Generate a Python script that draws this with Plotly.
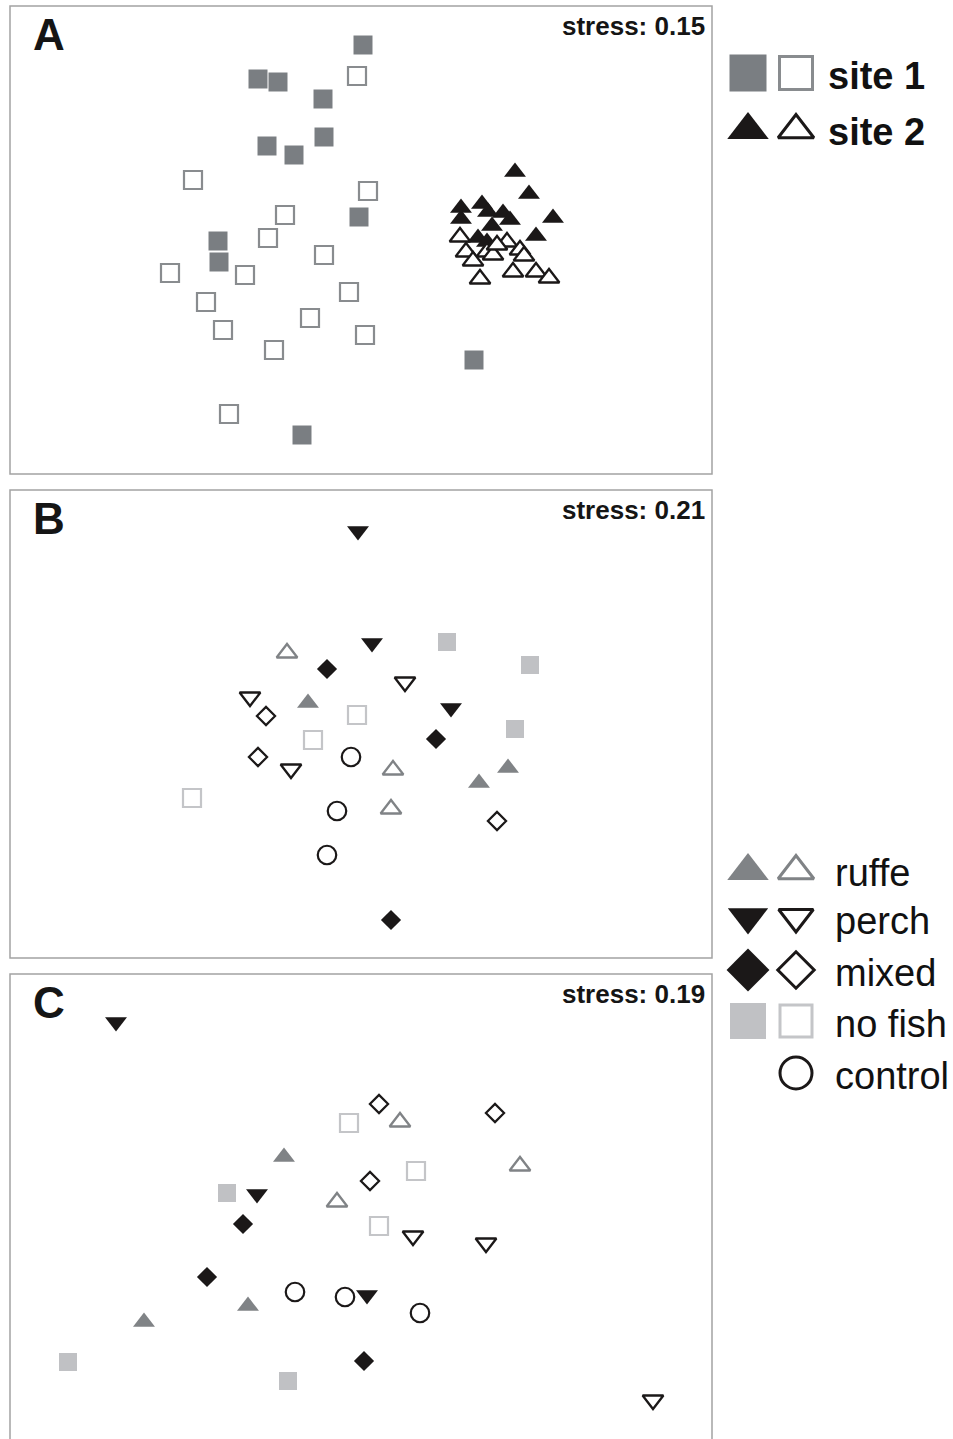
import plotly.graph_objects as go

W, H = 953, 1439

# ---------------- Panel A data (ordination scores) ----------------
a_site1_filled_x = [363, 258, 278, 323, 324, 267, 294, 359, 218, 219, 474, 302]
a_site1_filled_y = [45, 79, 82, 99, 137, 146, 155, 217, 241, 262, 360, 435]
a_site1_open_x = [357, 193, 368, 285, 268, 324, 170, 245, 349, 206, 223, 310, 365, 274, 229]
a_site1_open_y = [76, 180, 191, 215, 238, 255, 273, 275, 292, 302, 330, 318, 335, 350, 414]
a_site2_filled_x = [515, 529, 553, 461, 461, 482, 488, 503, 510, 492, 536, 478, 487, 490]
a_site2_filled_y = [172, 194, 218, 208, 219, 204, 212, 213, 220, 226, 236, 238, 242, 250]
a_site2_open_x = [460, 507, 466, 487, 493, 520, 524, 473, 513, 536, 549, 480, 497]
a_site2_open_y = [237, 242, 252, 252, 255, 250, 256, 261, 272, 272, 278, 279, 245]

# ---------------- Panel B data ----------------
b_ruffe_filled_x = [308, 508, 479]; b_ruffe_filled_y = [703, 768, 783]
b_ruffe_open_x = [287, 393, 391]; b_ruffe_open_y = [653, 770, 809]
b_perch_filled_x = [358, 372, 451]; b_perch_filled_y = [531, 643, 708]
b_perch_open_x = [405, 250, 291]; b_perch_open_y = [682, 697, 769]
b_mixed_filled_x = [327, 436, 391]; b_mixed_filled_y = [669, 739, 920]
b_mixed_open_x = [266, 258, 497]; b_mixed_open_y = [716, 757, 821]
b_nofish_filled_x = [447, 530, 515]; b_nofish_filled_y = [642, 665, 729]
b_nofish_open_x = [357, 313, 192]; b_nofish_open_y = [715, 740, 798]
b_control_x = [351, 337, 327]; b_control_y = [757, 811, 855]

# ---------------- Panel C data ----------------
c_ruffe_filled_x = [284, 248, 144]; c_ruffe_filled_y = [1157, 1306, 1322]
c_ruffe_open_x = [400, 520, 337]; c_ruffe_open_y = [1122, 1166, 1202]
c_perch_filled_x = [116, 257, 367]; c_perch_filled_y = [1022, 1194, 1295]
c_perch_open_x = [413, 486, 653]; c_perch_open_y = [1236, 1243, 1400]
c_mixed_filled_x = [243, 207, 364]; c_mixed_filled_y = [1224, 1277, 1361]
c_mixed_open_x = [379, 495, 370]; c_mixed_open_y = [1104, 1113, 1181]
c_nofish_filled_x = [227, 68, 288]; c_nofish_filled_y = [1193, 1362, 1381]
c_nofish_open_x = [349, 416, 379]; c_nofish_open_y = [1123, 1171, 1226]
c_control_x = [295, 345, 420]; c_control_y = [1292, 1297, 1313]

panel_letters = ["A", "B", "C"]
stress_labels = ["stress: 0.15", "stress: 0.21", "stress: 0.19"]
legend_a_labels = ["site 1", "site 2"]
legend_bc_labels = ["ruffe", "perch", "mixed", "no fish", "control"]

# ---------------- styles ----------------
GRAY_A = "#7a7e82"
GRAY_A_LINE = "#898c8f"
BLACK = "#1b1818"
RUFFE = "#808386"
LIGHT = "#c0c1c4"
LIGHT_LINE = "#c4c5c8"
FRAME = "#a3a3a3"
FONT = "Arial, Liberation Sans, sans-serif"

# panel boxes in page pixels: (left, top, right, bottom)
panels = [(10, 6, 712, 474), (10, 490, 712, 958), (10, 974, 712, 1442)]

fig = go.Figure()


def add(x, y, axis, symbol, size, fill, line_color, line_width):
    fig.add_trace(go.Scatter(
        x=x, y=y, mode="markers", xaxis="x" + axis, yaxis="y" + axis,
        marker=dict(symbol=symbol, size=size, color=fill,
                    line=dict(color=line_color, width=line_width)),
        showlegend=False, hoverinfo="skip", cliponaxis=False))


# Panel A (axis "")
add(a_site1_filled_x, a_site1_filled_y, "", "square", 19, GRAY_A, GRAY_A, 0)
add(a_site1_open_x, a_site1_open_y, "", "square", 18, "white", GRAY_A_LINE, 2.2)
add(a_site2_filled_x, a_site2_filled_y, "", "triangle-up", 19, BLACK, BLACK, 0)
add(a_site2_open_x, a_site2_open_y, "", "triangle-up", 18, "white", BLACK, 2.3)


def group_panel(axis, d):
    add(d["nofish_filled"][0], d["nofish_filled"][1], axis, "square", 18, LIGHT, LIGHT, 0)
    add(d["nofish_open"][0], d["nofish_open"][1], axis, "square", 18, "white", LIGHT_LINE, 2.2)
    add(d["ruffe_filled"][0], d["ruffe_filled"][1], axis, "triangle-up", 19, RUFFE, RUFFE, 0)
    add(d["ruffe_open"][0], d["ruffe_open"][1], axis, "triangle-up", 18, "white", RUFFE, 2.3)
    add(d["perch_filled"][0], d["perch_filled"][1], axis, "triangle-down", 19, BLACK, BLACK, 0)
    add(d["perch_open"][0], d["perch_open"][1], axis, "triangle-down", 18, "white", BLACK, 2.3)
    add(d["mixed_filled"][0], d["mixed_filled"][1], axis, "diamond", 15.5, BLACK, BLACK, 0)
    add(d["mixed_open"][0], d["mixed_open"][1], axis, "diamond", 14, "white", BLACK, 2.2)
    add(d["control"][0], d["control"][1], axis, "circle", 18.5, "white", BLACK, 2.2)


group_panel("2", dict(
    ruffe_filled=(b_ruffe_filled_x, b_ruffe_filled_y), ruffe_open=(b_ruffe_open_x, b_ruffe_open_y),
    perch_filled=(b_perch_filled_x, b_perch_filled_y), perch_open=(b_perch_open_x, b_perch_open_y),
    mixed_filled=(b_mixed_filled_x, b_mixed_filled_y), mixed_open=(b_mixed_open_x, b_mixed_open_y),
    nofish_filled=(b_nofish_filled_x, b_nofish_filled_y), nofish_open=(b_nofish_open_x, b_nofish_open_y),
    control=(b_control_x, b_control_y)))
group_panel("3", dict(
    ruffe_filled=(c_ruffe_filled_x, c_ruffe_filled_y), ruffe_open=(c_ruffe_open_x, c_ruffe_open_y),
    perch_filled=(c_perch_filled_x, c_perch_filled_y), perch_open=(c_perch_open_x, c_perch_open_y),
    mixed_filled=(c_mixed_filled_x, c_mixed_filled_y), mixed_open=(c_mixed_open_x, c_mixed_open_y),
    nofish_filled=(c_nofish_filled_x, c_nofish_filled_y), nofish_open=(c_nofish_open_x, c_nofish_open_y),
    control=(c_control_x, c_control_y)))

# ---------------- legends (overlay axis "4" in page pixels) ----------------
KX1, KX2, TX = 748, 796, 826
leg_a_rows = [73, 129]
add([KX1], [leg_a_rows[0]], "4", "square", 37, GRAY_A, GRAY_A, 0)
add([KX2], [leg_a_rows[0]], "4", "square", 33, "white", GRAY_A_LINE, 3)
add([KX1], [leg_a_rows[1] + 1], "4", "triangle-up", 36, BLACK, BLACK, 0)
add([KX2], [leg_a_rows[1] + 1], "4", "triangle-up", 31, "white", BLACK, 3)

leg_bc_rows = [870, 918, 970, 1021, 1073]
add([KX1], [leg_bc_rows[0] + 1], "4", "triangle-up", 36, RUFFE, RUFFE, 0)
add([KX2], [leg_bc_rows[0] + 1], "4", "triangle-up", 31, "white", RUFFE, 3)
add([KX1], [leg_bc_rows[1] - 1], "4", "triangle-down", 35, BLACK, BLACK, 0)
add([KX2], [leg_bc_rows[1] - 1], "4", "triangle-down", 30, "white", BLACK, 3)
add([KX1], [leg_bc_rows[2]], "4", "diamond", 33, BLACK, BLACK, 0)
add([KX2], [leg_bc_rows[2]], "4", "diamond", 28, "white", BLACK, 3)
add([KX1], [leg_bc_rows[3]], "4", "square", 36, LIGHT, LIGHT, 0)
add([KX2], [leg_bc_rows[3]], "4", "square", 32, "white", LIGHT_LINE, 3)
add([KX2], [leg_bc_rows[4]], "4", "circle", 32, "white", BLACK, 3)

annotations = []
for lab, yy in zip(legend_a_labels, leg_a_rows):
    annotations.append(dict(x=TX, y=yy + 3, xref="x4", yref="y4", text="<b>" + lab + "</b>",
                            showarrow=False, xanchor="left", yanchor="middle",
                            font=dict(family=FONT, size=38, color="#111111")))
for lab, yy in zip(legend_bc_labels, leg_bc_rows):
    annotations.append(dict(x=833, y=yy + 3, xref="x4", yref="y4", text=lab,
                            showarrow=False, xanchor="left", yanchor="middle",
                            font=dict(family=FONT, size=38, color="#111111")))

shapes = []
for i, (l, t, r, b) in enumerate(panels):
    shapes.append(dict(type="rect", x0=l, x1=r, y0=t, y1=b, xref="x4", yref="y4",
                       line=dict(color=FRAME, width=1.5), layer="below"))
    annotations.append(dict(x=l + 21, y=t + 28, xref="x4", yref="y4",
                            text="<b>" + panel_letters[i] + "</b>", showarrow=False,
                            xanchor="left", yanchor="middle",
                            font=dict(family=FONT, size=44, color="#151515")))
    annotations.append(dict(x=r - 5, y=t + 20, xref="x4", yref="y4",
                            text="<b>" + stress_labels[i] + "</b>", showarrow=False,
                            xanchor="right", yanchor="middle",
                            font=dict(family=FONT, size=26, color="#151515")))


def ax_off(**kw):
    d = dict(visible=False, showgrid=False, zeroline=False, fixedrange=True)
    d.update(kw)
    return d


layout = dict(
    width=W, height=H, margin=dict(l=0, r=0, t=0, b=0),
    paper_bgcolor="white", plot_bgcolor="rgba(0,0,0,0)",
    showlegend=False, shapes=shapes, annotations=annotations,
    xaxis4=ax_off(domain=[0, 1], range=[0, W]),
    yaxis4=ax_off(domain=[0, 1], range=[H, 0]),
)
axis_names = [("xaxis", "yaxis"), ("xaxis2", "yaxis2"), ("xaxis3", "yaxis3")]
for (xa, ya), (l, t, r, b) in zip(axis_names, panels):
    bb = min(b, H)
    layout[xa] = ax_off(domain=[l / W, r / W], range=[l, r])
    layout[ya] = ax_off(domain=[1 - bb / H, 1 - t / H], range=[bb, t])

fig.update_layout(**layout)
fig.write_html("out.html", config={"displayModeBar": False},
               post_script="document.body.style.margin='0px';document.body.style.overflow='hidden';")
